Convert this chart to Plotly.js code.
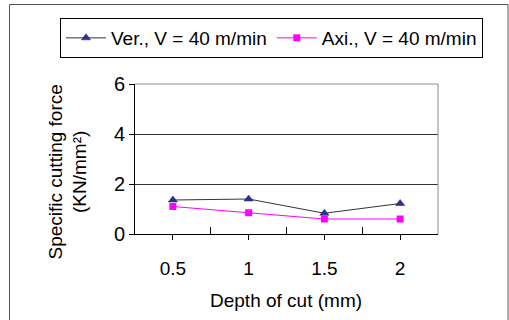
<!DOCTYPE html>
<html>
<head>
<meta charset="utf-8">
<script src="https://cdn.plot.ly/plotly-3.0.1.min.js"></script>
<style>html,body{margin:0;padding:0;background:#fff;}#chart{width:509px;height:320px;}</style>
</head>
<body>
<div id="chart"></div>
<script>
const depthLabels = ["0.5", "1", "1.5", "2"];
const verValues = [1.36, 1.4, 0.83, 1.22];
const axiValues = [1.1, 0.85, 0.6, 0.6];
const yTicks = [0, 2, 4, 6];
const catIndex = depthLabels.map((_, i) => i);

const L = 135, R = 438, T = 84, B = 234, W = 509, H = 320;
const pw = R - L, ph = B - T;
const px = x => (x - L) / pw;
const py = y => (B - y) / ph;

const font = "Liberation Sans, Arial, sans-serif";

const traces = [
  {
    x: catIndex, y: verValues, name: "Ver., V = 40 m/min",
    type: "scatter", mode: "lines+markers",
    line: {color: "#333333", width: 1},
    marker: {symbol: "triangle-up", size: 8, color: "#2e3192", line: {color: "#1f1f6e", width: 0.5}}
  },
  {
    x: catIndex, y: axiValues, name: "Axi., V = 40 m/min",
    type: "scatter", mode: "lines+markers",
    line: {color: "#ff00ff", width: 1},
    marker: {symbol: "square", size: 7, color: "#ff00ff"}
  }
];

const layout = {
  width: W, height: H,
  margin: {l: L, r: W - R, t: T, b: H - B, pad: 0},
  paper_bgcolor: "#ffffff", plot_bgcolor: "#ffffff",
  font: {family: font, size: 19, color: "#000"},
  showlegend: true,
  legend: {
    orientation: "h", x: px(60), y: py(18), xanchor: "left", yanchor: "top",
    bordercolor: "#000", borderwidth: 1, bgcolor: "#fff",
    font: {family: font, size: 19, color: "#000"},
    itemwidth: 40, tracegroupgap: 0
  },
  xaxis: {
    range: [-0.5, 3.5], tickmode: "array", tickvals: catIndex, ticktext: depthLabels,
    showticklabels: false,
    ticks: "outside", ticklen: 5, tickcolor: "#000", tickwidth: 1,
    showline: true, linecolor: "#000", linewidth: 1,
    showgrid: false, zeroline: false,
    minor: {tickvals: [0.5, 1.5, 2.5], ticks: "inside", ticklen: 7, tickcolor: "#000", tickwidth: 1, showgrid: false},
    fixedrange: true
  },
  xaxis2: {
    overlaying: "x", matches: "x", side: "bottom", anchor: "y",
    range: [-0.5, 3.5], tickmode: "array", tickvals: catIndex, ticktext: depthLabels,
    ticks: "outside", ticklen: 17, tickcolor: "rgba(0,0,0,0)",
    showline: false, showgrid: false, zeroline: false,
    tickfont: {family: font, size: 19},
    fixedrange: true
  },
  yaxis: {
    range: [0, 6], tickmode: "array", tickvals: yTicks,
    ticks: "outside", ticklen: 5, tickcolor: "#000", tickwidth: 1,
    showline: true, linecolor: "#000", linewidth: 1,
    showgrid: true, gridcolor: "#333", gridwidth: 1, zeroline: false,
    tickfont: {family: font, size: 20},
    fixedrange: true
  },
  shapes: [
    {type: "path", xref: "paper", yref: "paper", path: "M 0,1 L 1,1 L 1,0",
     line: {color: "#8c8c8c", width: 1}, layer: "above"},
    {type: "rect", xref: "paper", yref: "paper",
     x0: px(9.5), x1: px(508), y0: py(330), y1: py(4.5),
     line: {color: "#555", width: 1}, layer: "below"}
  ],
  annotations: [
    {xref: "paper", yref: "paper", x: px(67.5), y: py(172), xanchor: "center", yanchor: "middle",
     textangle: -90,
     text: "Specific cutting force<br>(KN/mm²)", showarrow: false,
     font: {family: font, size: 19, color: "#000"}, align: "center"},
    {xref: "paper", yref: "paper", x: px(286), y: py(300), xanchor: "center", yanchor: "middle",
     text: "Depth of cut (mm)", showarrow: false,
     font: {family: font, size: 19, color: "#000"}}
  ]
};

// invisible trace that activates xaxis2, which carries the tick labels
traces.push({x: catIndex, y: verValues, xaxis: "x2", yaxis: "y", type: "scatter", mode: "none",
  showlegend: false, hoverinfo: "skip"});

Plotly.newPlot("chart", traces, layout, {displayModeBar: false, staticPlot: true});
</script>
</body>
</html>
